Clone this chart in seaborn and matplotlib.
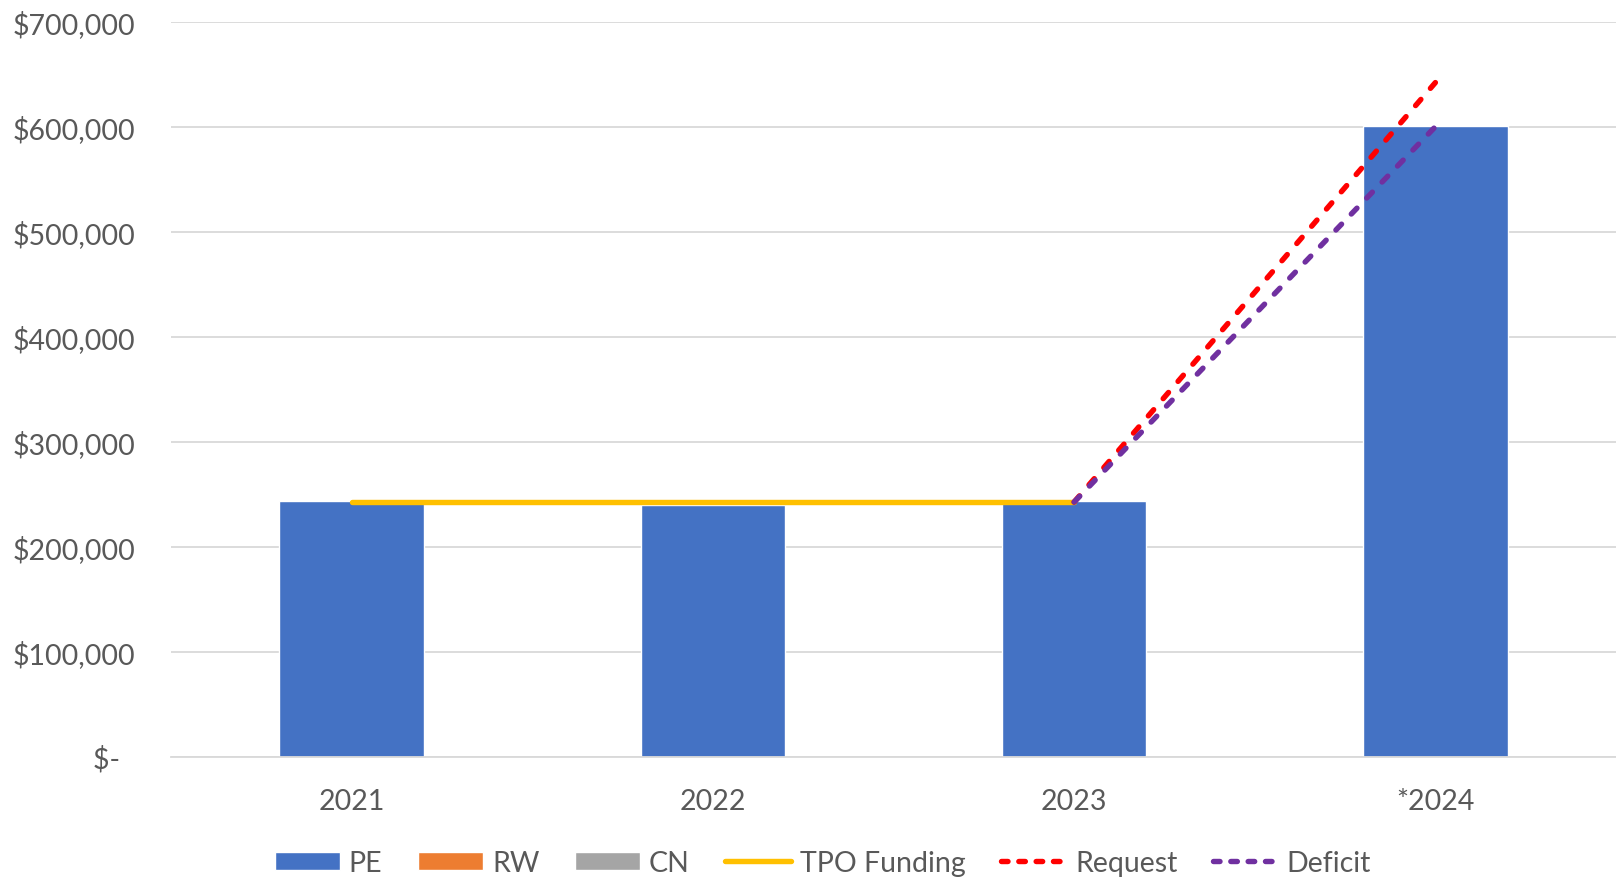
import numpy as np
import pandas as pd
import matplotlib
matplotlib.use("Agg")
import matplotlib.pyplot as plt
from matplotlib.patches import Patch
from matplotlib.lines import Line2D
import seaborn as sns

years = ["2021", "2022", "2023", "*2024"]
pe = [243300, 239500, 243300, 600500]
tpo_years = ["2021", "2022", "2023"]
tpo_funding = [242400, 242400, 242400]
req_years = ["2023", "*2024"]
request = [242400, 642000]
deficit = [242400, 600000]
yticks = [0, 100000, 200000, 300000, 400000, 500000, 600000, 700000]
ytick_labels = ["$-  ", "$100,000", "$200,000", "$300,000", "$400,000",
                "$500,000", "$600,000", "$700,000"]

sns.set_theme(style="white")
plt.rcParams['font.family'] = ['Lato', 'DejaVu Sans']

TXT = "#595959"
FS = 20.5
LW = 3.9
fig = plt.figure(figsize=(16.16, 8.79), dpi=100)
ax = fig.add_axes([171/1616, 1 - 757.5/879, (1616-171)/1616, (757.5-22.7)/879])

df = pd.DataFrame({"year": years, "PE": pe})
sns.barplot(data=df, x="year", y="PE", color="#4472C4", width=0.4,
            saturation=1, ax=ax, zorder=2)

sns.lineplot(x=tpo_years, y=tpo_funding, color="#FFC000", lw=LW,
             ax=ax, sort=False, zorder=3, solid_capstyle="round")
tpo_line = ax.lines[-1]
sns.lineplot(x=req_years, y=request, color="#FF0000", lw=LW,
             ax=ax, sort=False, zorder=4)
req_line = ax.lines[-1]
sns.lineplot(x=req_years, y=deficit, color="#7030A0", lw=LW,
             ax=ax, sort=False, zorder=4)
def_line = ax.lines[-1]
tpo_line.set_linestyle("-")
tpo_line.set_solid_capstyle("round")
req_line.set_dashes((1.5, 2.7))
def_line.set_dashes((1.5, 2.6))
for ln in (req_line, def_line):
    ln.set_dash_capstyle("round")

ax.set_xlim(-0.5, 3.5)
ax.set_ylim(0, 700000)
ax.set_yticks(yticks)
ax.set_yticklabels(ytick_labels)
ax.set_xlabel("")
ax.set_ylabel("")
ax.grid(axis="y", color="#D9D9D9", lw=1.3, zorder=0)
ax.set_axisbelow(True)
for s in ["top", "right", "left"]:
    ax.spines[s].set_visible(False)
ax.spines["bottom"].set_color("#D9D9D9")
ax.spines["bottom"].set_linewidth(1.3)
ax.tick_params(axis="y", length=0, pad=26, labelsize=FS, labelcolor=TXT)
ax.tick_params(axis="x", length=0, pad=23, labelsize=FS, labelcolor=TXT)

handles = [
    Patch(facecolor="#4472C4", label="PE"),
    Patch(facecolor="#ED7D31", label="RW"),
    Patch(facecolor="#A5A5A5", label="CN"),
    Line2D([], [], color="#FFC000", lw=LW, solid_capstyle="round", label="TPO Funding"),
    Line2D([], [], color="#FF0000", lw=LW, dashes=(1.2, 2.0), dash_capstyle="round", label="Request"),
    Line2D([], [], color="#7030A0", lw=LW, dashes=(1.2, 2.0), dash_capstyle="round", label="Deficit"),
]
leg = fig.legend(handles=handles, loc="center", bbox_to_anchor=(823/1616, 1 - 864/879),
                 ncol=6, frameon=False, fontsize=FS, handlelength=2.3, handleheight=0.6,
                 columnspacing=1.25, handletextpad=0.3, labelcolor=TXT)

fig.savefig("out.png", dpi=100)
